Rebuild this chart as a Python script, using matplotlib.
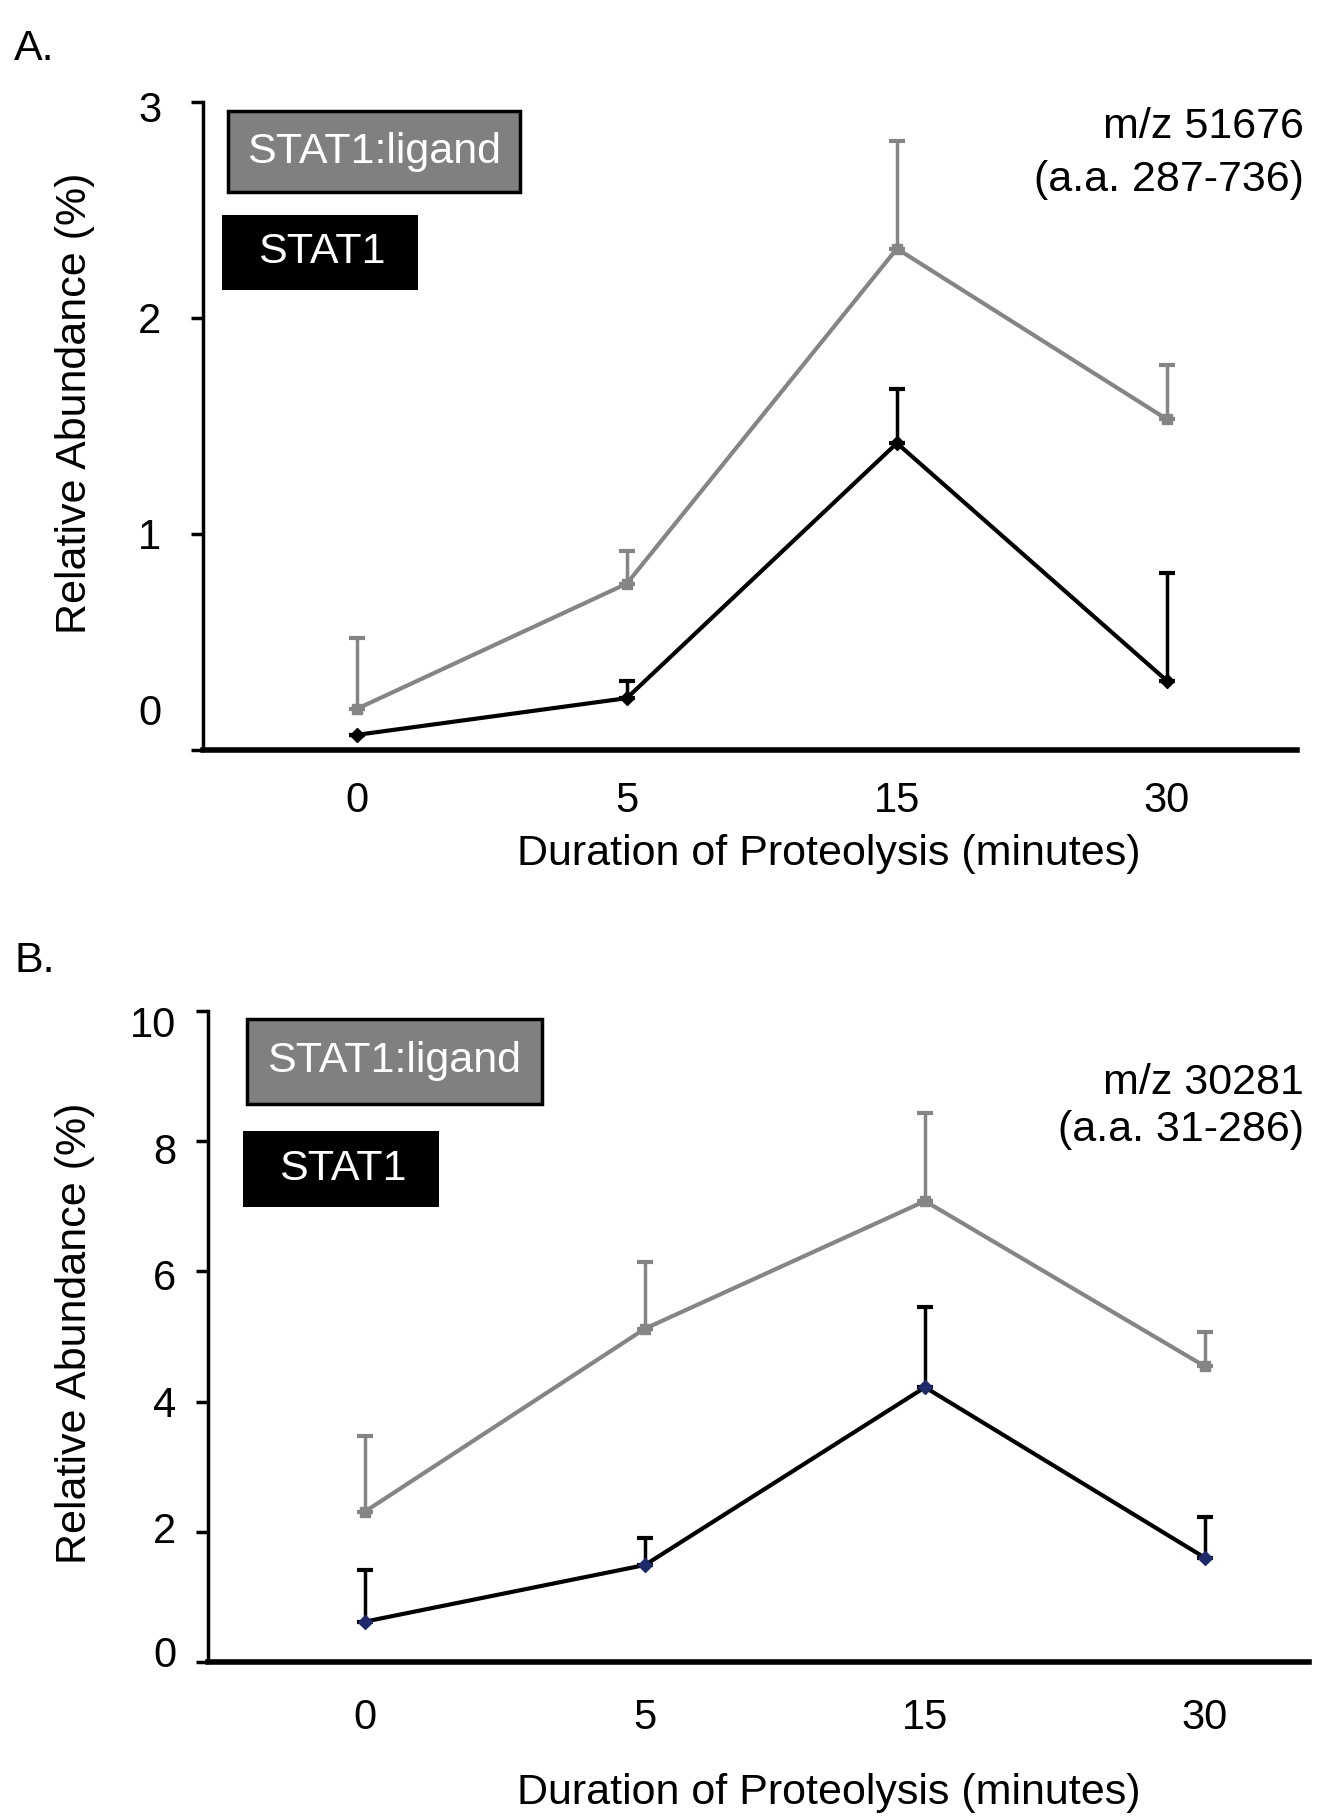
import numpy as np
import matplotlib.pyplot as plt
from matplotlib.patches import Rectangle
import matplotlib.transforms as mtransforms

plt.rcParams['font.family'] = ['Liberation Sans', 'DejaVu Sans']

# data
times = ['0', '5', '15', '30']

a_ligand = [0.19, 0.77, 2.32, 1.53]
a_ligand_err = [0.33, 0.15, 0.50, 0.25]
a_stat1 = [0.07, 0.24, 1.42, 0.32]
a_stat1_err = [0.0, 0.08, 0.25, 0.50]

b_ligand = [2.31, 5.12, 7.08, 4.54]
b_ligand_err = [1.16, 1.02, 1.35, 0.53]
b_stat1 = [0.62, 1.49, 4.22, 1.60]
b_stat1_err = [0.79, 0.41, 1.24, 0.62]

a_yticks = [0, 1, 2, 3]
b_yticks = [0, 2, 4, 6, 8, 10]

GRAY = '#858585'
FS = 30

fig = plt.figure(figsize=(13.34, 18.16), dpi=100)


def panel(rect, ligand, ligand_err, stat1, stat1_err, yticks, xlim, tickpad,
          xpad, stat1_marker_color, boxes, label_shifts):
    ax = fig.add_axes(rect)
    x = np.arange(len(times))
    ax.errorbar(x, ligand, yerr=[np.zeros(4), ligand_err], color=GRAY, lw=3,
                marker='s', ms=7, capsize=6, capthick=3, elinewidth=2.5, zorder=2)
    ax.errorbar(x, stat1, yerr=[np.zeros(4), stat1_err], color='black', lw=3,
                marker='D', ms=7, mfc=stat1_marker_color, mec=stat1_marker_color,
                capsize=6, capthick=3, elinewidth=2.5, zorder=3)
    ax.set_xlim(*xlim)
    ax.set_ylim(yticks[0], yticks[-1])
    ax.set_xticks(x)
    ax.set_xticklabels(times, fontsize=FS)
    ax.set_yticks(yticks)
    ax.set_yticklabels([str(t) for t in yticks], fontsize=FS)
    ax.tick_params(axis='x', length=0, pad=xpad)
    ax.tick_params(axis='y', length=9, width=2.5, pad=tickpad)
    for s in ['top', 'right']:
        ax.spines[s].set_visible(False)
    ax.spines['left'].set_linewidth(2.5)
    ax.spines['bottom'].set_linewidth(4)
    ax.spines['left'].set_zorder(5)
    # tick labels are not quite level with their ticks in the original
    for lab, sh in zip(ax.get_yticklabels(), label_shifts):
        lab.set_transform(lab.get_transform() +
                          mtransforms.ScaledTranslation(0, sh / 100, fig.dpi_scale_trans))

    (gx, gy, gw, gh), (bx, by, bw, bh), stat1_tx = boxes
    ax.add_patch(Rectangle((gx, gy), gw, gh, transform=ax.transAxes, fc='#808080',
                           ec='black', lw=2.5, clip_on=False, zorder=6))
    ax.text(gx + gw / 2, gy + gh / 2, 'STAT1:ligand', transform=ax.transAxes, color='white',
            fontsize=FS + 1, ha='center', va='center', zorder=7)
    ax.add_patch(Rectangle((bx, by), bw, bh, transform=ax.transAxes, fc='black',
                           ec='black', lw=0, clip_on=False, zorder=6))
    ax.text(stat1_tx, by + bh / 2, 'STAT1', transform=ax.transAxes, color='white',
            fontsize=FS + 1, ha='center', va='center', zorder=7)
    return ax


panel([0.152, 0.587, 0.820, 0.357], a_ligand, a_ligand_err, a_stat1, a_stat1_err,
      a_yticks, (-0.57, 3.48), 21, 22, 'black',
      ((0.023, 0.861, 0.267, 0.124), (0.018, 0.710, 0.179, 0.116), 0.109),
      [41, 0, 0, -5])

panel([0.156, 0.0848, 0.825, 0.3585], b_ligand, b_ligand_err, b_stat1, b_stat1_err,
      b_yticks, (-0.56, 3.37), 14, 26, '#1f2a6b',
      ((0.035, 0.857, 0.268, 0.131), (0.032, 0.699, 0.178, 0.117), 0.122),
      [11, 4, 0, -3, -7, -11])

# axis titles and annotations
fig.text(0.6215, 0.530, 'Duration of Proteolysis (minutes)', fontsize=FS + 1, ha='center', va='center')
fig.text(0.6215, 0.0128, 'Duration of Proteolysis (minutes)', fontsize=FS + 1, ha='center', va='center')
fig.text(0.056, 1 - 403 / 1816, 'Relative Abundance (%)', fontsize=FS + 1, rotation=90,
         ha='center', va='center')
fig.text(0.056, 1 - 1333 / 1816, 'Relative Abundance (%)', fontsize=FS + 1, rotation=90,
         ha='center', va='center')

fig.text(0.9775, 0.930, 'm/z 51676', fontsize=FS + 1, ha='right', va='center')
fig.text(0.9775, 0.901, '(a.a. 287-736)', fontsize=FS + 1, ha='right', va='center')
fig.text(0.9775, 0.4036, 'm/z 30281', fontsize=FS + 1, ha='right', va='center')
fig.text(0.9775, 0.378, '(a.a. 31-286)', fontsize=FS + 1, ha='right', va='center')

fig.text(0.0105, 0.973, 'A.', fontsize=FS + 1, ha='left', va='center')
fig.text(0.0105, 0.471, 'B.', fontsize=FS + 1, ha='left', va='center')

fig.savefig('out.png', dpi=100)
